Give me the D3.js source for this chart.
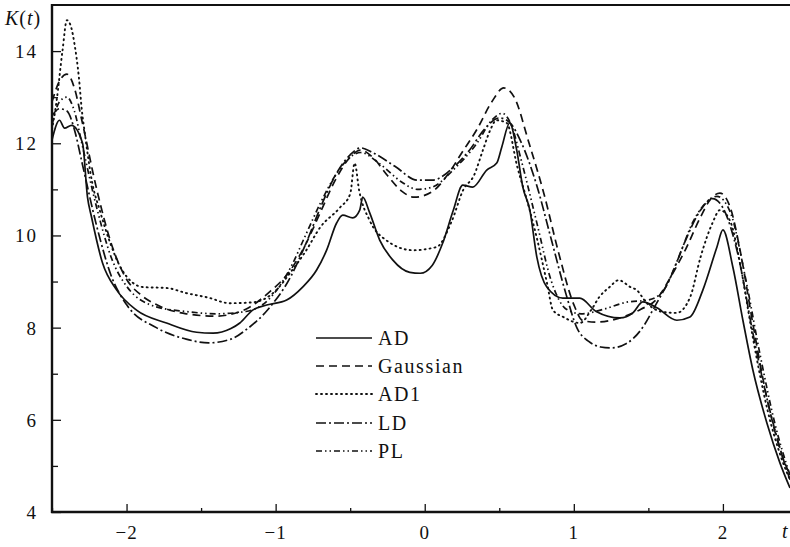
<!DOCTYPE html>
<html><head><meta charset="utf-8">
<script src="https://cdn.jsdelivr.net/npm/d3@7"></script>
<style>html,body{margin:0;padding:0;background:#fff;}svg{display:block;}</style>
</head><body><svg id="c" width="790" height="547"></svg>
<script>
// ---- data ----
const seriesNames = ["AD", "Gaussian", "AD1", "LD", "PL"];
const xTicks = [-2, -1, 0, 1, 2];
const xTickLabels = ["\u22122", "\u22121", "0", "1", "2"];
const yTicks = [4, 6, 8, 10, 12, 14];
const yTickLabels = ["4", "6", "8", "10", "12", "14"];

const adT = [-2.5,-2.45,-2.416,-2.369,-2.295,-2.262,-2.235,-2.161,-2.067,-1.933,-1.732,-1.53,-1.42,-1.30,-1.24,-1.154,-1.06,-0.926,-0.819,-0.725,-0.658,-0.591,-0.55,-0.483,-0.436,-0.416,-0.369,-0.302,-0.215,-0.1,-0.03,0.05,0.12,0.19,0.255,0.322,0.416,0.483,0.517,0.57,0.617,0.658,0.705,0.752,0.819,0.926,1.04,1.15,1.309,1.396,1.463,1.557,1.691,1.779,1.866,1.96,2.0,2.067,2.134,2.201,2.295,2.383,2.45];
const adK = [12.07,12.5,12.33,12.39,12.0,10.83,10.4,9.4,8.82,8.38,8.1,7.9,7.88,7.98,8.1,8.38,8.49,8.6,8.88,9.25,9.68,10.27,10.44,10.38,10.55,10.83,10.49,9.9,9.47,9.2,9.18,9.35,9.83,10.53,11.09,11.05,11.42,11.57,11.92,12.44,11.85,11.05,10.55,9.53,8.88,8.64,8.64,8.35,8.21,8.32,8.56,8.43,8.16,8.23,8.82,9.75,10.12,9.31,8.16,7.08,5.93,5.06,4.52];

const gaussT = [-2.5,-2.45,-2.4,-2.35,-2.3,-2.2,-2.1,-2.0,-1.9,-1.8,-1.6,-1.4,-1.2,-1.05,-0.9,-0.8,-0.7,-0.6,-0.5,-0.43,-0.35,-0.25,-0.15,-0.07,0.05,0.15,0.25,0.35,0.45,0.53,0.6,0.7,0.8,0.9,1.0,1.06,1.15,1.3,1.45,1.55,1.65,1.75,1.85,1.92,1.98,2.05,2.12,2.2,2.3,2.4,2.45];
const gaussK = [12.9,13.35,13.5,13.2,12.5,11.0,9.8,9.05,8.7,8.5,8.3,8.25,8.4,8.75,9.25,9.8,10.5,11.2,11.7,11.85,11.7,11.3,10.95,10.83,10.95,11.3,11.8,12.3,12.9,13.2,13.0,12.0,10.9,9.6,8.5,8.15,8.12,8.2,8.4,8.6,9.1,9.7,10.4,10.8,10.92,10.6,9.6,8.1,6.4,5.2,4.8];

const ad1T = [-2.5,-2.47,-2.43,-2.40,-2.37,-2.35,-2.32,-2.30,-2.28,-2.23,-2.18,-2.11,-2.03,-1.89,-1.73,-1.6,-1.45,-1.31,-1.15,-1.0,-0.9,-0.8,-0.7,-0.57,-0.5,-0.47,-0.44,-0.37,-0.26,-0.08,0.08,0.18,0.26,0.33,0.39,0.44,0.48,0.55,0.62,0.70,0.75,0.82,0.86,0.93,1.04,1.12,1.17,1.24,1.30,1.38,1.42,1.49,1.60,1.69,1.78,1.85,1.93,1.98,2.05,2.12,2.2,2.3,2.4,2.45];
const ad1K = [12.3,12.9,14.0,14.67,14.5,14.17,13.44,12.72,12.22,11.14,10.55,9.84,9.25,8.88,8.86,8.75,8.65,8.53,8.55,8.8,9.2,9.65,10.18,10.6,10.9,11.57,10.98,10.33,9.9,9.68,9.75,10.3,11.0,11.3,11.85,12.29,12.5,12.44,11.5,10.6,9.97,8.97,8.38,8.23,8.1,8.4,8.66,8.88,9.03,8.88,8.82,8.53,8.34,8.32,8.66,9.53,10.27,10.55,10.3,9.3,7.8,6.2,5.1,4.7];

const ldT = [-2.5,-2.45,-2.4,-2.35,-2.3,-2.2,-2.1,-2.0,-1.8,-1.6,-1.45,-1.3,-1.2,-1.05,-0.9,-0.8,-0.7,-0.6,-0.5,-0.43,-0.35,-0.2,-0.05,0.05,0.2,0.3,0.4,0.5,0.57,0.65,0.75,0.85,0.95,1.02,1.1,1.18,1.25,1.35,1.45,1.55,1.65,1.75,1.85,1.93,2.0,2.1,2.2,2.3,2.4,2.45];
const ldK = [12.6,12.75,12.7,12.3,11.6,10.2,9.1,8.5,8.0,7.75,7.67,7.75,7.95,8.4,9.1,9.8,10.6,11.3,11.75,11.9,11.8,11.5,11.2,11.2,11.5,11.85,12.3,12.55,12.45,12.0,11.1,9.9,8.7,8.0,7.7,7.58,7.56,7.65,7.95,8.5,9.1,9.9,10.55,10.8,10.6,9.6,7.9,6.4,5.2,4.7];

const plT = [-2.5,-2.45,-2.4,-2.35,-2.3,-2.2,-2.1,-2.0,-1.8,-1.6,-1.4,-1.2,-1.05,-0.9,-0.8,-0.7,-0.6,-0.5,-0.43,-0.3,-0.15,-0.05,0.05,0.2,0.35,0.45,0.52,0.58,0.65,0.75,0.85,0.95,1.05,1.2,1.35,1.5,1.6,1.7,1.8,1.9,1.96,2.05,2.15,2.25,2.35,2.45];
const plK = [12.4,12.9,13.0,12.7,12.0,10.6,9.5,8.9,8.45,8.35,8.3,8.35,8.6,9.3,10.0,10.7,11.3,11.7,11.8,11.55,11.15,11.0,11.05,11.45,12.0,12.5,12.65,12.4,11.6,10.3,9.0,8.4,8.3,8.4,8.55,8.6,8.8,9.5,10.3,10.75,10.85,10.5,9.1,7.4,5.9,4.8];

const seriesT = [adT, gaussT, ad1T, ldT, plT];
const seriesK = [adK, gaussK, ad1K, ldK, plK];
const dashes = [null, "8,5", "1,4", "10,3,2,3", "6,3,1.5,3,1.5,3"];

// ---- chart ----
const svg = d3.select("#c");
const L = 52, R = 790, T = 5, B = 512;
const x = d3.scaleLinear().domain([-2.5, 2.45]).range([L, R]);
const y = d3.scaleLinear().domain([4, 15]).range([B, T]);
const font = "'Liberation Serif','Times New Roman',serif";

svg.append("defs").append("clipPath").attr("id","clip")
  .append("rect").attr("x",L).attr("y",T).attr("width",R-L).attr("height",B-T);

const line = d3.line().x(d=>x(d[0])).y(d=>y(d[1])).curve(d3.curveMonotoneX);
const g = svg.append("g").attr("clip-path","url(#clip)");
seriesNames.forEach((n,i)=>{
  const pts = seriesT[i].map((t,j)=>[t, seriesK[i][j]]);
  const p = g.append("path").datum(pts).attr("d", line)
    .attr("fill","none").attr("stroke","#111").attr("stroke-width", i===2?1.9:1.7)
    .attr("stroke-linecap", i===2?"round":"butt");
  if (dashes[i]) p.attr("stroke-dasharray", dashes[i]);
});

// axes
const xAxis = d3.axisBottom(x).tickValues(d3.range(-2.5, 2.45, 0.5)).tickSize(-8).tickFormat("");
const gx = svg.append("g").attr("transform",`translate(0,${B})`).call(xAxis);
gx.selectAll(".tick line").attr("y2", d => Math.abs(d - Math.round(d))<1e-6 ? -8 : -4).attr("stroke","#111").attr("stroke-width",1.3);
gx.select(".domain").remove();
xTicks.forEach((v,i)=>{
  svg.append("text").attr("x", x(v)).attr("y", 539).attr("text-anchor","middle")
    .attr("font-family",font).attr("font-size",19).attr("letter-spacing",1).attr("fill","#111").text(xTickLabels[i]);
});

const yAxis = d3.axisLeft(y).tickValues(d3.range(4, 15, 1)).tickSize(-8).tickFormat("");
const gy = svg.append("g").attr("transform",`translate(${L},0)`).call(yAxis);
gy.selectAll(".tick line").attr("x2", d => d%2===0 ? 9 : 6).attr("stroke","#111").attr("stroke-width",1.3);
gy.select(".domain").remove();
yTicks.forEach((v,i)=>{
  svg.append("text").attr("x", 38).attr("y", y(v)+7).attr("text-anchor","end")
    .attr("font-family",font).attr("font-size",19).attr("letter-spacing",2).attr("fill","#111").text(yTickLabels[i]);
});

// frame
svg.append("line").attr("x1",L).attr("x2",L).attr("y1",T-1).attr("y2",B+1).attr("stroke","#111").attr("stroke-width",2.4);
svg.append("line").attr("x1",L-1).attr("x2",R).attr("y1",B).attr("y2",B).attr("stroke","#111").attr("stroke-width",2.6);
svg.append("line").attr("x1",L-1).attr("x2",R).attr("y1",T).attr("y2",T).attr("stroke","#111").attr("stroke-width",2);

// axis titles
const kt = svg.append("text").attr("x",5).attr("y",25).attr("font-family",font).attr("font-size",20).attr("letter-spacing",1).attr("fill","#111");
kt.append("tspan").attr("font-style","italic").text("K");
kt.append("tspan").text("(");
kt.append("tspan").attr("font-style","italic").text("t");
kt.append("tspan").text(")");
svg.append("text").attr("x",782).attr("y",538).attr("font-family",font).attr("font-size",20)
  .attr("font-style","italic").attr("fill","#111").text("t");

// legend
const legY = [338, 366, 394, 423, 451];
seriesNames.forEach((n,i)=>{
  const l = svg.append("line").attr("x1",316).attr("x2",372).attr("y1",legY[i]).attr("y2",legY[i])
    .attr("stroke","#111").attr("stroke-width", i===2?1.9:1.7).attr("stroke-linecap", i===2?"round":"butt");
  if (dashes[i]) l.attr("stroke-dasharray", dashes[i]);
  svg.append("text").attr("x",378).attr("y",legY[i]+7).attr("font-family",font).attr("font-size",20)
    .attr("letter-spacing",1.6).attr("fill","#111").text(n);
});
</script></body></html>
